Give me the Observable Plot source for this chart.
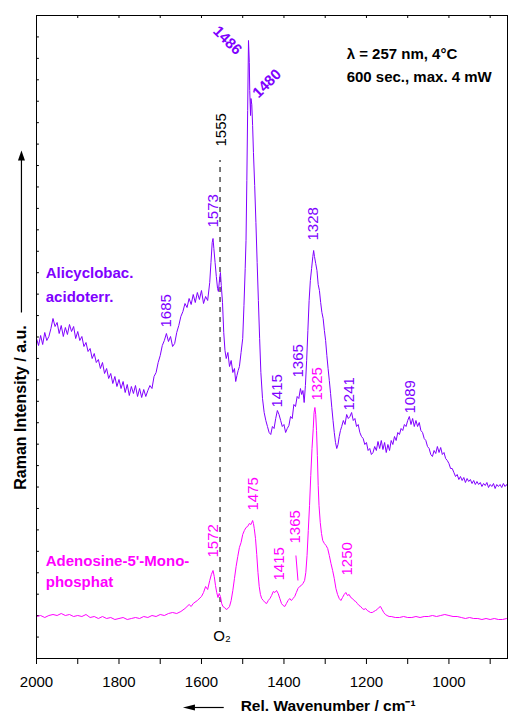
<!DOCTYPE html>
<html>
<head>
<meta charset="utf-8">
<script src="https://cdn.jsdelivr.net/npm/d3@7"></script>
<script src="https://cdn.jsdelivr.net/npm/@observablehq/plot@0.6"></script>
<style>
  html, body { margin: 0; padding: 0; background: white; }
</style>
</head>
<body>
<div id="chart"></div>
<script>
// Wavenumber (cm-1), Raman intensity (a.u., stacked)
const aliSpectrum = [[2000,320],[1995,313],[1990,323],[1985,314],[1980,326],[1975,318],[1970,322],[1965,330],[1960,340],[1955,332],[1950,336],[1945,325],[1940,333],[1935,322],[1930,331],[1925,324],[1920,334],[1915,327],[1910,332],[1905,320],[1900,327],[1895,318],[1890,322],[1885,312],[1880,316],[1875,307],[1870,310],[1865,300],[1860,305],[1855,296],[1850,299],[1845,290],[1840,296],[1835,285],[1830,290],[1825,280],[1820,285],[1815,275],[1810,282],[1805,272],[1800,279],[1795,270],[1790,277],[1785,266],[1780,274],[1775,263],[1770,272],[1765,265],[1760,273],[1755,262],[1750,270],[1745,261],[1740,269],[1735,262],[1730,268],[1725,273],[1720,270],[1715,282],[1710,286],[1705,296],[1700,303],[1695,313],[1690,318],[1685,325],[1680,317],[1675,322],[1670,312],[1665,315],[1660,326],[1655,333],[1650,342],[1645,347],[1640,355],[1635,351],[1630,360],[1625,354],[1620,364],[1615,356],[1610,366],[1605,359],[1600,368],[1595,355],[1590,362],[1585,358],[1580,376],[1577,396],[1574,416],[1572,420],[1570,410],[1567,396],[1564,382],[1561,370],[1559,367],[1556,380],[1554,386],[1552,373],[1549,356],[1546,326],[1543,308],[1540,300],[1536,306],[1532,292],[1528,298],[1524,286],[1520,290],[1517,277],[1514,283],[1511,288],[1508,292],[1504,306],[1500,320],[1497,353],[1494,390],[1492,418],[1490,478],[1488,548],[1486,618],[1484,596],[1483,568],[1481,543],[1480,560],[1478,554],[1476,533],[1474,506],[1471,473],[1468,436],[1465,396],[1462,358],[1459,320],[1456,286],[1452,260],[1448,246],[1444,238],[1440,232],[1436,226],[1432,224],[1428,232],[1424,230],[1420,240],[1416,248],[1412,244],[1408,238],[1404,232],[1400,234],[1396,226],[1392,230],[1388,233],[1384,242],[1380,240],[1376,254],[1372,252],[1368,262],[1364,260],[1360,270],[1357,264],[1354,268],[1351,256],[1348,273],[1345,298],[1342,328],[1339,358],[1336,378],[1333,390],[1330,402],[1328,408],[1326,402],[1323,395],[1320,388],[1317,374],[1314,368],[1311,356],[1308,346],[1305,340],[1302,328],[1299,318],[1296,303],[1293,290],[1290,278],[1287,265],[1284,251],[1281,238],[1278,226],[1275,216],[1272,210],[1269,214],[1266,222],[1263,228],[1260,232],[1256,238],[1252,234],[1248,244],[1244,240],[1240,242],[1236,246],[1232,238],[1228,240],[1224,232],[1220,234],[1216,226],[1212,222],[1208,220],[1204,214],[1200,216],[1196,208],[1192,210],[1188,204],[1184,206],[1180,212],[1176,208],[1172,217],[1168,210],[1164,218],[1160,209],[1156,216],[1152,206],[1148,214],[1144,208],[1140,218],[1136,214],[1132,222],[1128,218],[1124,226],[1120,224],[1116,230],[1112,228],[1108,234],[1104,232],[1100,238],[1096,242],[1092,234],[1088,240],[1084,232],[1080,238],[1076,232],[1072,236],[1068,228],[1064,226],[1060,220],[1056,218],[1052,212],[1048,210],[1044,204],[1040,202],[1036,208],[1032,205],[1028,212],[1024,206],[1020,211],[1016,204],[1012,206],[1008,200],[1004,198],[1000,195],[996,190],[992,190],[988,186],[984,182],[980,184],[976,179],[972,182],[968,178],[964,181],[960,176],[956,180],[952,177],[948,179],[944,175],[940,178],[936,174],[932,177],[928,174],[924,176],[920,172],[916,175],[912,173],[908,176],[904,171],[900,174],[896,172],[892,175],[888,170],[884,174],[880,172],[876,174],[872,171],[868,175],[864,172],[860,174],[858,172]];

const ampSpectrum = [[2000,42],[1990,43],[1980,41],[1970,43],[1960,44],[1950,43],[1940,45],[1930,43],[1920,44],[1910,42],[1900,43],[1890,42],[1880,44],[1870,41],[1860,42],[1850,40],[1840,42],[1830,40],[1820,41],[1810,39],[1800,40],[1790,41],[1780,39],[1770,40],[1760,41],[1750,40],[1740,42],[1730,41],[1720,43],[1710,42],[1700,44],[1690,43],[1680,45],[1670,46],[1660,45],[1650,47],[1640,50],[1630,54],[1625,52],[1620,55],[1610,58],[1600,62],[1595,66],[1590,72],[1585,69],[1580,78],[1576,84],[1572,88],[1569,82],[1566,73],[1563,66],[1560,61],[1557,65],[1554,62],[1551,55],[1548,52],[1544,51],[1540,49],[1536,50],[1532,52],[1528,58],[1524,68],[1520,80],[1516,92],[1512,102],[1508,111],[1504,116],[1500,124],[1496,128],[1492,131],[1488,132],[1484,135],[1480,134],[1476,138],[1474,135],[1472,130],[1469,120],[1466,104],[1463,86],[1460,72],[1457,64],[1454,60],[1450,58],[1446,56],[1442,55],[1438,58],[1434,60],[1430,63],[1426,67],[1422,66],[1418,68],[1414,65],[1410,60],[1406,55],[1402,53],[1398,52],[1394,55],[1390,58],[1386,60],[1382,58],[1378,60],[1374,62],[1370,66],[1366,70],[1362,72],[1358,73],[1354,75],[1350,78],[1347,86],[1344,103],[1341,128],[1338,153],[1335,183],[1332,210],[1329,230],[1327,246],[1325,251],[1323,244],[1321,228],[1319,203],[1317,173],[1315,153],[1312,136],[1309,125],[1306,118],[1302,115],[1298,113],[1294,110],[1290,103],[1286,95],[1282,88],[1278,80],[1274,70],[1270,64],[1266,60],[1262,58],[1258,61],[1254,64],[1250,66],[1246,63],[1242,64],[1238,61],[1234,60],[1230,58],[1226,57],[1222,55],[1218,53],[1214,52],[1210,50],[1206,49],[1202,50],[1198,48],[1194,47],[1190,46],[1186,46],[1182,47],[1178,48],[1174,49],[1170,51],[1166,52],[1162,49],[1158,46],[1154,44],[1150,43],[1145,42],[1140,42],[1130,41],[1120,41],[1110,42],[1100,41],[1090,41],[1080,42],[1070,41],[1060,42],[1050,42],[1040,43],[1030,42],[1020,43],[1010,44],[1000,43],[990,42],[980,42],[970,41],[960,40],[950,41],[940,40],[930,40],[920,39],[910,40],[900,39],[890,40],[880,39],[870,39],[860,40],[858,39]];

const aliPeaks = [1573, 1685, 1415, 1365, 1328, 1241, 1089];
const aliPeaksDiagonal = [1486, 1480];
const ampPeaks = [1325, 1572, 1475, 1415, 1365, 1250];
const o2Line = 1555;
const xTickValues = [2000, 1900, 1800, 1700, 1600, 1500, 1400, 1300, 1200, 1100, 1000, 900];
const xTickLabels = [2000, 1800, 1600, 1400, 1200, 1000];

// ---- layout (positions of annotations) ----
const VIOLET = "#8000ff";
const MAGENTA = "#ff00ff";
const FONT = "'Liberation Sans', Arial, Helvetica, sans-serif";
const aliLabelPos = [{y: 431, dx: 1}, {y: 331, dx: 0}, {y: 251, dx: -1}, {y: 281, dx: 0}, {y: 418, dx: 0}, {y: 248, dx: 0}, {y: 245, dx: -2}];
const aliDiagPos = [{y: 618, dx: -21, rotate: 45}, {y: 575, dx: 16, rotate: -45}];
const ampLabelPos = [{y: 258, dx: 2}, {y: 101, dx: 0}, {y: 148, dx: 0}, {y: 78, dx: 1}, {y: 115, dx: -3}, {y: 83, dx: 1.5}];
const yTickPos = d3.range(1, 30).map(i => i * 643 / 30);

const triUp = {draw(ctx) { ctx.moveTo(0, 0); ctx.lineTo(-3.5, 10); ctx.lineTo(3.5, 10); ctx.closePath(); }};
const triLeft = {draw(ctx) { ctx.moveTo(0, 0); ctx.lineTo(12, -3); ctx.lineTo(12, 3); ctx.closePath(); }};

const vLabel = (value, pos, color) => Plot.text([String(value)], {
  x: value, y: pos.y, dx: pos.dx, text: d => d, rotate: -90,
  textAnchor: "start", lineAnchor: "middle", fill: color, fontSize: 15
});

const chart = Plot.plot({
  width: 508,
  height: 715,
  marginLeft: 36,
  marginRight: 1,
  marginTop: 15,
  marginBottom: 57,
  style: {fontFamily: FONT, fontSize: "15px", background: "white", color: "black", overflow: "visible"},
  x: {domain: [2000, 858], label: null},
  y: {domain: [0, 643], axis: null},
  marks: [
    Plot.axisX({ticks: xTickValues, tickSize: 6, tickFormat: () => "", label: null, stroke: "black"}),
    Plot.axisX({ticks: xTickLabels, tickSize: 0, tickPadding: 18, tickFormat: d => String(d), label: null, fontSize: 15, fill: "black"}),
    Plot.ruleX(xTickValues, {x: d => d, y1: 643, y2: 640, stroke: "black"}),
    Plot.ruleY(yTickPos, {y: d => d, x1: 2000, x2: 1993, stroke: "black"}),
    Plot.ruleX([o2Line], {x: d => d, y1: 36, y2: 498, stroke: "#222", strokeWidth: 1.2, strokeDasharray: "5,5"}),
    Plot.line(ampSpectrum, {x: d => d[0], y: d => d[1], stroke: MAGENTA, strokeWidth: 1}),
    Plot.line(aliSpectrum, {x: d => d[0], y: d => d[1], stroke: VIOLET, strokeWidth: 1}),
    Plot.frame({stroke: "black", strokeWidth: 1}),
    ...aliPeaks.map((p, i) => vLabel(p, aliLabelPos[i], VIOLET)),
    ...ampPeaks.map((p, i) => vLabel(p, ampLabelPos[i], MAGENTA)),
    ...aliPeaksDiagonal.map((p, i) => Plot.text([String(p)], {
      x: p, y: aliDiagPos[i].y, dx: aliDiagPos[i].dx, text: d => d, rotate: aliDiagPos[i].rotate,
      textAnchor: "middle", lineAnchor: "middle", fill: VIOLET, fontSize: 15, fontWeight: "bold"
    })),
    Plot.link([0], {x1: 1371, y1: 103, x2: 1366, y2: 78, stroke: MAGENTA, strokeWidth: 1}),
    Plot.text([String(o2Line)], {x: o2Line, y: 512, dx: 1, text: d => d, rotate: -90, textAnchor: "start", lineAnchor: "middle", fill: "black", fontSize: 15}),
    Plot.text(["O\u2082"], {x: o2Line, y: 22, dx: 2, text: d => d, textAnchor: "middle", lineAnchor: "middle", fill: "black", fontSize: 15}),
    Plot.text(["Alicyclobac.", "acidoterr."], {x: 1977.5, y: (d, i) => [385, 361][i], text: d => d, textAnchor: "start", lineAnchor: "middle", fill: VIOLET, fontSize: 15, fontWeight: "bold"}),
    Plot.text(["Adenosine-5'-Mono-", "phosphat"], {x: 1977.5, y: (d, i) => [97, 76][i], text: d => d, textAnchor: "start", lineAnchor: "middle", fill: MAGENTA, fontSize: 15, fontWeight: "bold"}),
    Plot.text(["\u03bb = 257 nm, 4\u00b0C", "600 sec., max. 4 mW"], {x: 1248, y: (d, i) => [604, 581][i], text: d => d, textAnchor: "start", lineAnchor: "middle", fill: "black", fontSize: 15, fontWeight: "bold"}),
    // y axis title with arrow
    Plot.text(["Raman Intensity / a.u."], {x: 2038, y: 251, text: d => d, rotate: -90, textAnchor: "middle", lineAnchor: "middle", fill: "black", fontSize: 16, fontWeight: "bold"}),
    Plot.link([0], {x1: 2036.5, y1: 346, x2: 2036.5, y2: 499, stroke: "black", strokeWidth: 1.2}),
    Plot.dot([0], {x: 2036.5, y: 508, symbol: triUp, fill: "black", stroke: "none"}),
    // x axis title with arrow
    Plot.text(["Rel. Wavenumber / cm\u207b\u00b9"], {x: 1505, y: -48, text: d => d, textAnchor: "start", lineAnchor: "middle", fill: "black", fontSize: 15.5, fontWeight: "bold"}),
    Plot.link([0], {x1: 1546, y1: -49, x2: 1617, y2: -49, stroke: "black", strokeWidth: 1.2}),
    Plot.dot([0], {x: 1645, y: -49, symbol: triLeft, fill: "black", stroke: "none"})
  ]
});
document.getElementById("chart").appendChild(chart);
</script>
</body>
</html>
